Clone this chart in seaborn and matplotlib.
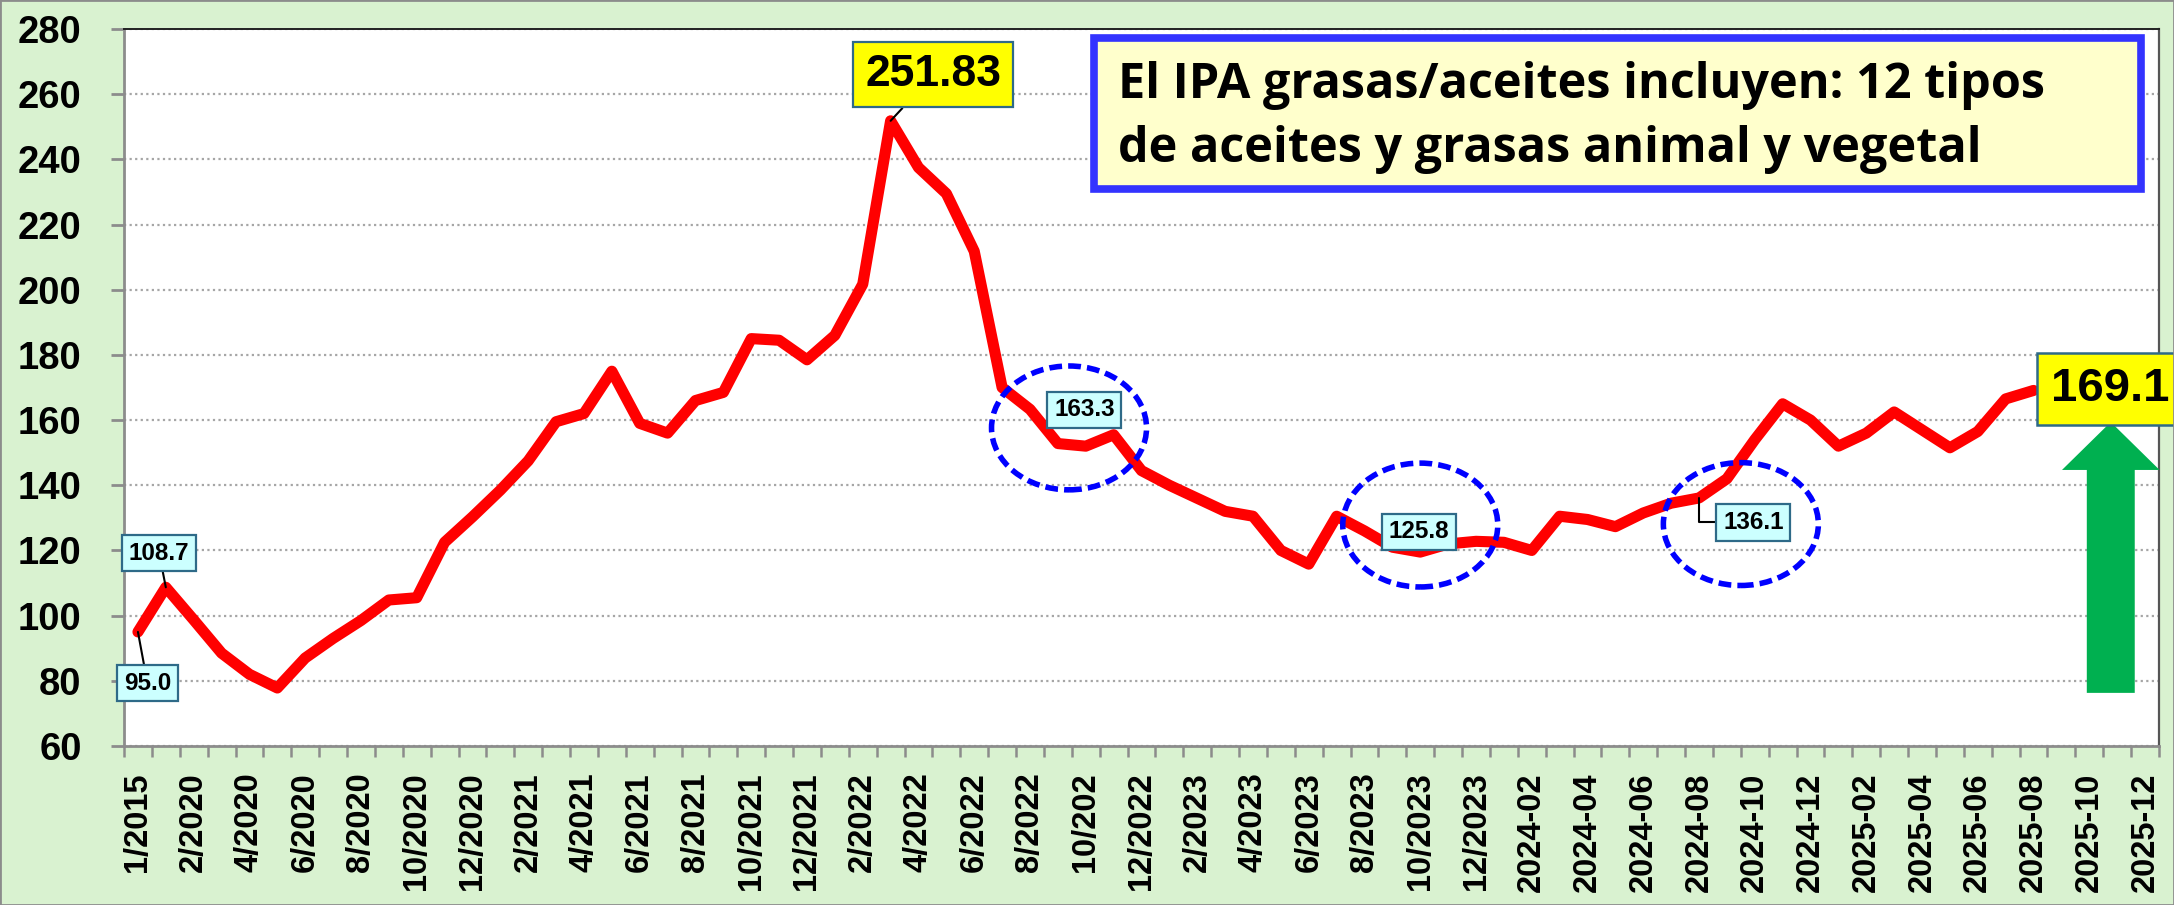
import numpy as np
import matplotlib
matplotlib.use("Agg")
import matplotlib.pyplot as plt
import seaborn as sns
from matplotlib.patches import Ellipse, Rectangle, FancyArrow

# ---------------- data ----------------
categories = [
    "1/2015", "1/2020", "2/2020", "3/2020", "4/2020", "5/2020", "6/2020", "7/2020", "8/2020",
    "9/2020", "10/2020", "11/2020", "12/2020",
    "1/2021", "2/2021", "3/2021", "4/2021", "5/2021", "6/2021", "7/2021", "8/2021",
    "9/2021", "10/2021", "11/2021", "12/2021",
    "1/2022", "2/2022", "3/2022", "4/2022", "5/2022", "6/2022", "7/2022", "8/2022",
    "9/2022", "10/202", "11/2022", "12/2022",
    "1/2023", "2/2023", "3/2023", "4/2023", "5/2023", "6/2023", "7/2023", "8/2023",
    "9/2023", "10/2023", "11/2023", "12/2023",
    "2024-01", "2024-02", "2024-03", "2024-04", "2024-05", "2024-06", "2024-07", "2024-08",
    "2024-09", "2024-10", "2024-11", "2024-12",
    "2025-01", "2025-02", "2025-03", "2025-04", "2025-05", "2025-06", "2025-07", "2025-08",
    "2025-09", "2025-10", "2025-11", "2025-12",
]
ipa_values = [
    95.0, 108.7, 98.7, 88.5, 82.0, 77.8, 87.0, 93.0, 98.5, 104.8, 105.5, 122.5, 130.3,
    138.5, 147.5, 159.5, 162.0, 175.0, 159.0, 156.0, 166.0, 168.5, 185.0, 184.5, 178.5,
    186.0, 201.7, 251.83, 237.5, 229.5, 211.8, 170.0, 163.3, 152.8, 152.0, 155.5, 144.5,
    140.0, 136.0, 132.0, 130.5, 120.0, 115.8, 130.5, 126.0, 121.0, 119.5, 122.0, 122.8,
    122.5, 120.0, 130.5, 129.5, 127.3, 131.5, 134.5, 136.1, 142.0, 154.0, 165.0, 160.0,
    152.0, 156.0, 162.5, 157.0, 151.5, 156.5, 166.5, 169.1,
]
y_ticks = [60, 80, 100, 120, 140, 160, 180, 200, 220, 240, 260, 280]

# labelled points: (text, category index, box x, box y, style)
point_labels = [
    ("95.0", 0, 0.34, 79.3, "small"),
    ("108.7", 1, 0.76, 119.2, "small"),
    ("251.83", 27, 28.53, 265.9, "big"),
    ("163.3", 32, 33.95, 163.1, "small_noline"),
    ("125.8", 46, 45.95, 125.7, "small_noline"),
    ("136.1", 56, 57.95, 128.6, "elbow"),
]
note_lines = ["El IPA grasas/aceites incluyen: 12 tipos", "de aceites y grasas animal y vegetal"]
last_label = "169.1"

# ---------------- style ----------------
sns.set_theme(style="white")
plt.rcParams["font.family"] = ["Liberation Sans", "DejaVu Sans"]
plt.rcParams["text.color"] = "black"

BG = "#D9F2D0"
W, H = 2174, 905
fig = plt.figure(figsize=(W / 100, H / 100), dpi=100, facecolor=BG)
ax = fig.add_axes([124 / W, 1 - 746 / H, (2159 - 124) / W, (746 - 29) / H])
ax.set_facecolor("white")

x = np.arange(len(ipa_values))
sns.lineplot(x=x, y=ipa_values, ax=ax, color="#FF0000", linewidth=8, zorder=3)
for ln in ax.lines:
    ln.set_solid_joinstyle("round")
    ln.set_solid_capstyle("round")

ax.set_xlim(-0.5, len(categories) - 0.5)
ax.set_ylim(60, 280)
ax.set_yticks(y_ticks)
ax.set_yticklabels([str(v) for v in y_ticks], fontsize=27.5, fontweight="bold")
major = list(range(0, len(categories), 2))
ax.set_xticks(major)
ax.set_xticklabels([categories[i] for i in major], rotation=90, fontsize=23.5,
                   fontweight="bold")
ax.set_xticks(np.arange(-0.5, len(categories), 1), minor=True)
ax.tick_params(axis="x", which="major", length=0, pad=19, labelcolor="black")
ax.tick_params(axis="x", which="minor", length=8, width=1.8, color="#8C8C8C", bottom=True)
ax.tick_params(axis="y", length=9.5, width=2, color="#8C8C8C", pad=21, left=True,
               labelcolor="black")
ax.set_xlabel("")
ax.set_ylabel("")

ax.yaxis.grid(True, linestyle=(0, (1, 1.5)), color="#A6A6A6", linewidth=1.6)
ax.xaxis.grid(False)
ax.set_axisbelow(True)

for side in ["left", "bottom"]:
    ax.spines[side].set_color("#8C8C8C")
    ax.spines[side].set_linewidth(2)
ax.spines["top"].set_color("#222222")
ax.spines["top"].set_linewidth(1.4)
ax.spines["right"].set_color("#555555")
ax.spines["right"].set_linewidth(1.6)

# ---------------- point labels ----------------
EDGE = "#2E6A88"
for text, idx, bx, by, style in point_labels:
    if style == "big":
        fs, fc, pad = 32, "#FFFF00", 0.27
    else:
        fs, fc, pad = 17.5, "#CCFFFF", 0.28
    bbox = dict(boxstyle=f"square,pad={pad}", fc=fc, ec=EDGE, lw=1.6)
    if style in ("small", "big"):
        ap = dict(arrowstyle="-", color="black", lw=1.5, shrinkA=0, shrinkB=0)
    elif style == "elbow":
        ap = dict(arrowstyle="-", color="black", lw=1.5, shrinkA=0, shrinkB=0,
                  connectionstyle="angle,angleA=0,angleB=90,rad=0")
    else:
        ap = None
    ax.annotate(text, xy=(idx, ipa_values[idx]), xytext=(bx, by), textcoords="data",
                ha="center", va="center", fontsize=fs, fontweight="bold", color="black",
                bbox=bbox, arrowprops=ap, zorder=6)

# dashed ellipses
for cx, cy, ew, eh in [(33.4, 157.6, 5.56, 38.0), (46.0, 127.8, 5.56, 38.0),
                       (57.5, 128.1, 5.56, 37.7)]:
    ax.add_patch(Ellipse((cx, cy), ew, eh, fill=False, ec="#0000FF", lw=4,
                         ls=(0, (2.3, 1.1)), zorder=5))

# last value label
ax.text(68.62, 169.6, last_label, ha="left", va="center", fontsize=34, fontweight="bold",
        color="black",
        bbox=dict(boxstyle="square,pad=0.3", fc="#FFFF00", ec=EDGE, lw=1.8),
        zorder=7, clip_on=False)

# green arrow
ax.add_patch(FancyArrow(70.77, 76.3, 0, 159.4 - 76.3, width=1.72, head_width=3.5,
                        head_length=14.7, length_includes_head=True, color="#00B050",
                        lw=0, zorder=6, clip_on=False))

# note box
ax.add_patch(Rectangle((1094 / W, 1 - 189 / H), (2141 - 1094) / W, (189 - 38) / H,
                       transform=fig.transFigure, fc="#FFFFCC", ec="#3333FF", lw=5.5,
                       zorder=8, clip_on=False))
for k, line in enumerate(note_lines):
    fig.text(1118 / W, 1 - (98 + 64 * k) / H, line, ha="left", va="baseline",
             fontsize=35, fontweight="bold", family=["Open Sans", "DejaVu Sans"],
             color="black", zorder=9)

# figure border
fig.add_artist(Rectangle((0, 0), 1, 1, transform=fig.transFigure, fill=False,
                         ec="#8C8C8C", lw=2))

fig.savefig("out.png", dpi=100, facecolor=BG)
